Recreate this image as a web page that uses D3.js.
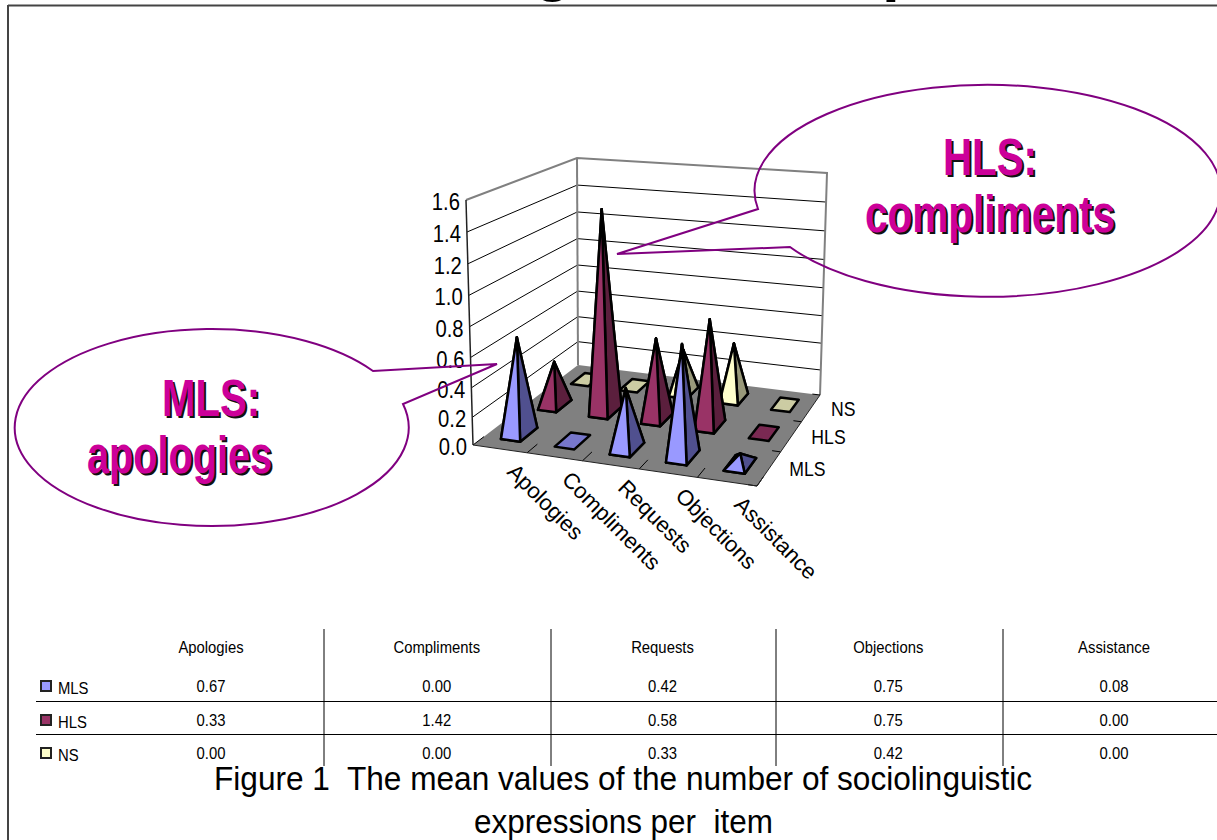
<!DOCTYPE html>
<html>
<head>
<meta charset="utf-8">
<style>
  body { margin: 0; background: #fff; }
  text { font-family: "Liberation Sans", Arial, sans-serif; fill: #000; }
  .face { stroke: #000; stroke-width: 2.5px; stroke-linejoin: round; }
  .grid { stroke: #000; stroke-width: 1px; fill: none; }
  .wall { stroke: #808080; stroke-width: 2px; fill: none; }
  .callout { fill: none; stroke: #800080; stroke-width: 2px; stroke-linejoin: miter; }
</style>
</head>
<body>
<div id="chart"></div>
<script src="https://d3js.org/d3.v7.min.js"></script>
<script>
  var categories = ["Apologies", "Compliments", "Requests", "Objections", "Assistance"];
  var seriesNames = ["MLS", "HLS", "NS"];
  var mlsValues = [0.67, 0.00, 0.42, 0.75, 0.08];
  var hlsValues = [0.33, 1.42, 0.58, 0.75, 0.00];
  var nsValues = [0.00, 0.00, 0.33, 0.42, 0.00];
  var seriesValues = [mlsValues, hlsValues, nsValues];
  var yTicks = [0, 0.2, 0.4, 0.6, 0.8, 1.0, 1.2, 1.4, 1.6];

  var frontColors = ["#9999FF", "#993366", "#FFFFCC"];
  var sideColors = ["#50508F", "#5B1F3D", "#99997A"];
  var flatColors = ["#7777CC", "#7A2952", "#CCCCA3"];

  var width = 1217, height = 840;

  var svg = d3.select("#chart").append("svg")
    .attr("width", width)
    .attr("height", height)
    .style("display", "block");

  // scales go into a unit box, then the camera below takes it to the page
  var xBand = d3.scaleBand().domain(categories).range([0, 1]);
  var zBand = d3.scaleBand().domain(seriesNames).range([0, 1]);
  // slight power for the perspective, upper gridlines sit a bit further apart
  var yUnit = d3.scalePow().exponent(1.05).domain([0, 1.6]).range([0, 1]);

  // box corners on the page: front left, front right, back right, back left
  var floorQuad = [[473, 445], [757, 486], [820, 395], [578, 365]];
  var topQuad = [[466, 200], [764, 226], [827, 173], [577, 158]];

  // maps the unit square onto a quad
  function quadMap(q) {
    var dx1 = q[1][0] - q[2][0], dx2 = q[3][0] - q[2][0], sx = q[0][0] - q[1][0] + q[2][0] - q[3][0];
    var dy1 = q[1][1] - q[2][1], dy2 = q[3][1] - q[2][1], sy = q[0][1] - q[1][1] + q[2][1] - q[3][1];
    var den = dx1 * dy2 - dx2 * dy1;
    var m = (sx * dy2 - dx2 * sy) / den;
    var n = (dx1 * sy - sx * dy1) / den;
    var a = q[1][0] - q[0][0] + m * q[1][0], b = q[3][0] - q[0][0] + n * q[3][0];
    var c = q[1][1] - q[0][1] + m * q[1][1], d = q[3][1] - q[0][1] + n * q[3][1];
    return function(u, w) {
      var k = m * u + n * w + 1;
      return [(a * u + b * w + q[0][0]) / k, (c * u + d * w + q[0][1]) / k];
    };
  }
  var floorMap = quadMap(floorQuad);
  var topMap = quadMap(topQuad);

  function project(u, w, v) {
    var t = yUnit(v);
    var p = floorMap(u, w), q = topMap(u, w);
    return [p[0] + (q[0] - p[0]) * t, p[1] + (q[1] - p[1]) * t];
  }

  var line = d3.line();
  var closedLine = d3.line().curve(d3.curveLinearClosed);

  // frame of the slide
  svg.append("line").attr("x1", 8).attr("x2", width).attr("y1", 5.5).attr("y2", 5.5)
    .attr("stroke", "#444").attr("stroke-width", 2);
  svg.append("line").attr("x1", 8).attr("x2", 8).attr("y1", 5).attr("y2", height)
    .attr("stroke", "#444").attr("stroke-width", 2);

  // bits of the cut off slide title
  svg.append("text").attr("x", 553).attr("y", -11).attr("text-anchor", "middle")
    .style("font-size", "64px").style("font-weight", "bold").text("g");
  svg.append("text").attr("x", 882).attr("y", -11)
    .style("font-size", "64px").style("font-weight", "bold").text("p");

  // floor
  svg.append("path")
    .attr("d", closedLine([project(0, 0, 0), project(1, 0, 0), project(1, 1, 0), project(0, 1, 0)]))
    .attr("fill", "#808080");

  // gridlines on both walls
  svg.selectAll(".gridline")
    .data(yTicks.slice(1, -1))
    .enter().append("path")
    .attr("class", "grid gridline")
    .attr("d", function(v) { return line([project(0, 0, v), project(0, 1, v), project(1, 1, v)]); });

  // wall edges
  svg.append("path").attr("class", "wall")
    .attr("d", line([project(0, 0, 1.6), project(0, 1, 1.6), project(1, 1, 1.6), project(1, 1, 0)]));
  svg.append("path").attr("class", "wall")
    .attr("d", line([project(0, 1, 1.6), project(0, 1, 0)]));
  svg.append("path")
    .attr("d", line([project(0, 0, 0), project(0, 0, 1.6)]))
    .attr("fill", "none").attr("stroke", "#222").attr("stroke-width", 1.5);

  // floor edge ticks
  svg.selectAll(".xtick")
    .data(d3.range(0, 6))
    .enter().append("path")
    .attr("class", "grid xtick")
    .attr("d", function(i) { return line([project(i / 5, 0, 0), project(i / 5, 0.09, 0)]); });
  svg.selectAll(".ztick")
    .data(d3.range(0, 4))
    .enter().append("path")
    .attr("class", "grid ztick")
    .attr("d", function(i) { return line([project(1, i / 3, 0), project(0.97, i / 3, 0)]); });
  svg.append("path").attr("fill", "none").attr("stroke", "#222").attr("stroke-width", 1)
    .attr("d", line([project(0, 0, 0), project(1, 0, 0), project(1, 1, 0)]));

  // y labels, squeezed a bit like the original
  svg.selectAll(".ylabel")
    .data(yTicks)
    .enter().append("text")
    .attr("class", "ylabel")
    .attr("text-anchor", "end")
    .attr("transform", function(v) {
      var p = project(0, 0, v);
      return "translate(" + (p[0] - 6) + "," + (p[1] + 10) + ") scale(0.88,1)";
    })
    .style("font-size", "23px")
    .text(function(v) { return v.toFixed(1); });

  // pyramids, back row first
  var baseX = 0.36, baseZ = 0.46;
  d3.range(seriesNames.length - 1, -1, -1).forEach(function(s) {
    categories.forEach(function(cat, i) {
      var v = seriesValues[s][i];
      var u = xBand(cat) + xBand.bandwidth() / 2;
      var w = zBand(seriesNames[s]) + zBand.bandwidth() / 2;
      var du = xBand.bandwidth() * baseX / 2;
      var dw = zBand.bandwidth() * baseZ / 2;
      var fl = project(u - du, w - dw, 0), fr = project(u + du, w - dw, 0);
      var br = project(u + du, w + dw, 0), bl = project(u - du, w + dw, 0);
      var apex = project(u, w, v);
      var g0 = svg.append("g");
      g0.append("path").attr("class", "face").attr("fill", flatColors[s]).attr("d", closedLine([fl, fr, br, bl]));
      if (v === 0) return;
      g0.append("path").attr("class", "face").attr("fill", sideColors[s]).attr("d", closedLine([bl, br, apex]));
      g0.append("path").attr("class", "face").attr("fill", sideColors[s]).attr("d", closedLine([bl, fl, apex]));
      g0.append("path").attr("class", "face").attr("fill", sideColors[s]).attr("d", closedLine([fr, br, apex]));
      g0.append("path").attr("class", "face").attr("fill", frontColors[s]).attr("d", closedLine([fl, fr, apex]));
    });
  });

  // series labels at the right floor edge
  svg.selectAll(".zlabel")
    .data(seriesNames)
    .enter().append("text")
    .attr("class", "zlabel")
    .attr("transform", function(n) {
      var p = project(1, zBand(n) + zBand.bandwidth() / 2, 0);
      return "translate(" + (p[0] + 20) + "," + (p[1] + 8) + ") scale(0.84,1)";
    })
    .style("font-size", "21px")
    .text(function(n) { return n; });

  // category labels on the diagonal
  svg.selectAll(".xlabel")
    .data(categories)
    .enter().append("text")
    .attr("class", "xlabel")
    .attr("transform", function(c) {
      var p = project(xBand(c) + xBand.bandwidth() / 2, 0, 0);
      return "translate(" + (p[0] + 6) + "," + (p[1] + 24) + ") rotate(45)";
    })
    .style("font-size", "22px")
    .text(function(c) { return c; });

  // data table under the chart
  var colX = d3.scalePoint().domain(categories).range([211, 1114]);
  var rowY = d3.scaleOrdinal().domain(seriesNames).range([692, 726, 759]);
  var tableBreaks = [324, 551, 776, 1003];
  var rowBreaks = [701.5, 734.5];
  var tableFont = "16.5px";

  function tableText(x, y) {
    return "translate(" + x + "," + y + ") scale(0.9,1)";
  }

  svg.selectAll(".vbreak").data(tableBreaks).enter().append("line")
    .attr("class", "grid vbreak")
    .attr("x1", function(x) { return x; }).attr("x2", function(x) { return x; })
    .attr("y1", 629).attr("y2", 766);
  svg.selectAll(".hbreak").data(rowBreaks).enter().append("line")
    .attr("class", "grid hbreak")
    .attr("x1", 36).attr("x2", width)
    .attr("y1", function(y) { return y; }).attr("y2", function(y) { return y; });

  svg.selectAll(".colhead").data(categories).enter().append("text")
    .attr("class", "colhead")
    .attr("transform", function(c) { return tableText(colX(c), 653); })
    .attr("text-anchor", "middle")
    .style("font-size", tableFont)
    .text(function(c) { return c; });

  seriesNames.forEach(function(n, s) {
    svg.append("rect")
      .attr("x", 41).attr("y", rowY(n) - 11).attr("width", 10).attr("height", 10)
      .attr("fill", frontColors[s]).attr("stroke", "#222").attr("stroke-width", 2);
    svg.append("text")
      .attr("transform", tableText(58, rowY(n) + 2))
      .style("font-size", tableFont)
      .text(n);
    svg.selectAll(".cell" + s).data(seriesValues[s]).enter().append("text")
      .attr("class", "cell" + s)
      .attr("transform", function(v, i) { return tableText(colX(categories[i]), rowY(n)); })
      .attr("text-anchor", "middle")
      .style("font-size", tableFont)
      .text(function(v) { return v.toFixed(2); });
  });

  // caption
  svg.append("text").attr("x", 214).attr("y", 790)
    .attr("textLength", 818).attr("lengthAdjust", "spacingAndGlyphs")
    .style("font-size", "33px").style("white-space", "pre")
    .text("Figure 1  The mean values of the number of sociolinguistic");
  svg.append("text").attr("x", 474).attr("y", 833)
    .attr("textLength", 299).attr("lengthAdjust", "spacingAndGlyphs")
    .style("font-size", "33px").style("white-space", "pre")
    .text("expressions per  item");

  // speech bubbles
  svg.append("path").attr("class", "callout")
    .attr("d", "M790,247 A233,106 0 1 0 758,209 L617,254 Z");
  svg.append("path").attr("class", "callout")
    .attr("d", "M373,371 A197,98.5 0 1 0 403,404 L497,364 Z");

  var bubbleText = [
    { t: "HLS:", x: 943, y: 175, len: 94 },
    { t: "compliments", x: 865, y: 232, len: 250 },
    { t: "MLS:", x: 162, y: 416, len: 98 },
    { t: "apologies", x: 87, y: 473, len: 185 }
  ];
  bubbleText.forEach(function(b) {
    [["#111", 2], ["#CC0099", 0]].forEach(function(layer) {
      svg.append("text")
        .attr("x", b.x + layer[1]).attr("y", b.y + layer[1])
        .attr("textLength", b.len).attr("lengthAdjust", "spacingAndGlyphs")
        .style("font-size", "51px").style("font-weight", "bold")
        .style("fill", layer[0])
        .text(b.t);
    });
  });
</script>
</body>
</html>
